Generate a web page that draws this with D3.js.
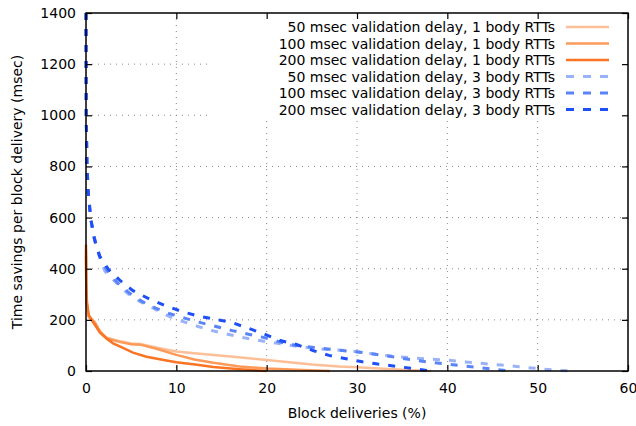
<!DOCTYPE html>
<html>
<head>
<meta charset="utf-8">
<script src="https://cdn.jsdelivr.net/npm/d3@7"></script>
<style>
  body { margin: 0; background: #fff; }
  text { font-family: "DejaVu Sans", sans-serif; font-size: 14px; fill: #000; }
</style>
</head>
<body>
<div id="chart"></div>
<script>
// Series: [x (% of deliveries), y (msec saved)]
var d50x1 = [[0,450],[0.03,320],[0.1,250],[0.3,210],[0.6,200],[1,185],[1.55,152],[2.3,130],[3.8,116],[5,108],[6,106],[8,90],[10,76],[12,69],[14.1,63],[16,57],[18,50],[20,43],[22.5,34],[25,25],[28,18],[30,15],[33,9],[36,3],[38.2,0]];
var d100x1 = [[0,470],[0.03,330],[0.1,260],[0.3,215],[0.6,205],[1,190],[1.55,155],[2.3,128],[3.8,113],[5,105],[6,103],[8,85],[10,63],[12,45],[14.1,32],[17,18],[20,10],[24,4],[27,0]];
var d200x1 = [[0,495],[0.03,350],[0.1,270],[0.3,220],[0.6,200],[1,180],[1.55,150],[2.3,126],[3,108],[3.8,95],[5.2,72],[6.7,56],[8.6,43],[10,34],[12.3,24],[14.1,16],[17,7],[20,0]];
var d50x3 = [[0,1400],[0.03,1000],[0.12,800],[0.25,700],[0.55,590],[1,505],[1.5,445],[2.1,390],[3.4,343],[4.7,301],[6,271],[7.5,245],[8.6,223],[10,202],[11.9,180],[13.7,160],[15.5,145],[17.5,130],[19.4,118],[21.2,108],[23.1,98],[25.1,89],[27,84],[28.9,80],[30.7,72],[32.6,63],[34.5,56],[36.4,50],[38.3,46],[40.1,42],[42,35],[44,29],[46,23],[47.9,17],[49.9,10],[51.8,4],[53.6,0]];
var d100x3 = [[0,1400],[0.03,1000],[0.12,800],[0.25,700],[0.55,590],[1,510],[1.6,440],[2.3,395],[3.5,345],[4.8,305],[6.2,272],[7.7,246],[9.2,225],[11,206],[12.7,189],[14.5,173],[16.2,158],[18.1,143],[19.8,130],[21.5,113],[23.3,100],[25,93],[27,85],[29,78],[30.7,72],[32.6,62],[34.4,53],[36.2,43],[38.1,34],[40,27],[41.8,20],[43.6,13],[45.5,5],[47.3,0]];
var d200x3 = [[0,1400],[0.02,1000],[0.1,800],[0.22,707],[0.5,600],[0.9,520],[1.5,450],[2.5,397],[3.8,353],[5.2,314],[7.1,280],[8.9,254],[10.5,234],[12.4,215],[14.3,202],[16.1,190],[17.9,168],[19.7,145],[21.5,119],[23.3,104],[25.2,79],[26.9,61],[28.8,48],[30.6,36],[32.3,27],[34.4,18],[36.5,8],[38.1,0]];

var labels = [
  "50 msec validation delay, 1 body RTTs",
  "100 msec validation delay, 1 body RTTs",
  "200 msec validation delay, 1 body RTTs",
  "50 msec validation delay, 3 body RTTs",
  "100 msec validation delay, 3 body RTTs",
  "200 msec validation delay, 3 body RTTs"
];
var colors = ["#fdbf97", "#fd9a5a", "#fb7424", "#9ab2f8", "#5a84f8", "#1f4ff6"];
var xTicks = [0, 10, 20, 30, 40, 50, 60];
var yTicks = [0, 200, 400, 600, 800, 1000, 1200, 1400];

var series = [d50x1, d100x1, d200x1, d50x3, d100x3, d200x3];

var W = 636, H = 426;
var M = {left: 86, right: 8, top: 13, bottom: 55};
var pw = W - M.left - M.right, ph = H - M.top - M.bottom;

var svg = d3.select("#chart").append("svg").attr("width", W).attr("height", H);
var g = svg.append("g").attr("transform", "translate(" + M.left + "," + M.top + ")");

var x = d3.scaleLinear().domain([0, 60]).range([0, pw]);
var y = d3.scaleLinear().domain([0, 1400]).range([ph, 0]);

// grid
g.append("g").selectAll("line").data(xTicks.slice(1, -1)).enter().append("line")
    .attr("x1", d => x(d)).attr("x2", d => x(d))
    .attr("y1", 0).attr("y2", ph)
    .style("stroke", "#888").style("stroke-width", 1).style("stroke-dasharray", "1,5");
g.append("g").selectAll("line").data(yTicks.slice(1, -1)).enter().append("line")
    .attr("x1", 0).attr("x2", pw)
    .attr("y1", d => y(d)).attr("y2", d => y(d))
    .style("stroke", "#888").style("stroke-width", 1).style("stroke-dasharray", "1,5");

// legend background (covers grid)
var legX = 124, legY = 0;
g.append("rect").attr("x", legX).attr("y", legY).attr("width", pw - legX).attr("height", 104)
    .style("fill", "#fff");

// curves
var line = d3.line().x(d => x(d[0])).y(d => y(d[1]));
g.append("g").selectAll("path").data(series).enter().append("path")
    .attr("d", line)
    .style("fill", "none")
    .style("stroke", (d, i) => colors[i])
    .style("stroke-width", (d, i) => i < 3 ? 2.5 : 3)
    .style("stroke-dasharray", (d, i) => i < 3 ? null : "7,9");

// axes (ticks inside, mirrored)
var tl = 6;
g.append("g").attr("transform", "translate(0," + ph + ")")
    .call(d3.axisBottom(x).tickValues(xTicks).tickSizeInner(-tl).tickSizeOuter(0).tickPadding(12).tickFormat(d3.format("d")))
    .call(a => a.select(".domain").remove());
g.append("g")
    .call(d3.axisTop(x).tickValues(xTicks).tickSizeInner(-tl).tickSizeOuter(0).tickFormat(""))
    .call(a => a.select(".domain").remove());
g.append("g")
    .call(d3.axisLeft(y).tickValues(yTicks).tickSizeInner(-tl).tickSizeOuter(0).tickPadding(10).tickFormat(d3.format("d")))
    .call(a => a.select(".domain").remove());
g.append("g").attr("transform", "translate(" + pw + ",0)")
    .call(d3.axisRight(y).tickValues(yTicks).tickSizeInner(-tl).tickSizeOuter(0).tickFormat(""))
    .call(a => a.select(".domain").remove());
g.selectAll(".tick line").style("stroke", "#000").style("stroke-width", 1.2);
g.selectAll(".tick text").style("font-size", "14px").style("font-family", "DejaVu Sans, sans-serif");

g.append("rect").attr("width", pw).attr("height", ph)
    .style("fill", "none").style("stroke", "#000").style("stroke-width", 1.5);

// legend
var leg = g.append("g").selectAll("g").data(labels).enter().append("g")
    .attr("transform", (d, i) => "translate(0," + (14 + i * 16.5) + ")");
leg.append("text").attr("x", 555 - M.left).attr("y", 5).attr("text-anchor", "end").text(d => d);
leg.append("line").attr("x1", 566 - M.left).attr("x2", 609 - M.left).attr("y1", 0).attr("y2", 0)
    .style("stroke", (d, i) => colors[i])
    .style("stroke-width", (d, i) => i < 3 ? 2.5 : 3)
    .style("stroke-dasharray", (d, i) => i < 3 ? null : "8,9");

// titles
svg.append("text").attr("x", M.left + pw / 2).attr("y", 418).attr("text-anchor", "middle")
    .text("Block deliveries (%)");
svg.append("text").attr("transform", "translate(22," + (M.top + ph / 2) + ") rotate(-90)")
    .attr("text-anchor", "middle").text("Time savings per block delivery (msec)");
</script>
</body>
</html>
